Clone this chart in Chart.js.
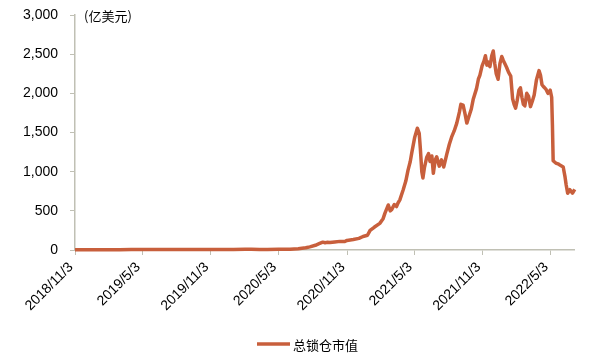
<!DOCTYPE html>
<html><head><meta charset="utf-8">
<script src="https://cdn.jsdelivr.net/npm/chart.js@4/dist/chart.umd.min.js"></script>
<style>html,body{margin:0;padding:0;background:#fff}#wrap{width:600px;height:359px;position:relative}</style>
</head><body><div id="wrap"><canvas id="c" width="600" height="359"></canvas></div>
<script>
const dates = [
'2018-11-03','2018-12-03','2019-01-03','2019-02-03','2019-03-03','2019-04-03','2019-05-03','2019-06-03','2019-07-03','2019-08-03','2019-09-03','2019-10-03','2019-11-03','2019-12-03',
'2020-01-03','2020-02-03','2020-02-20','2020-03-13','2020-04-03','2020-05-03','2020-06-03','2020-06-25','2020-07-15','2020-07-26','2020-08-10','2020-08-20','2020-08-30','2020-09-05','2020-09-10','2020-09-18','2020-10-01','2020-10-15','2020-10-28','2020-11-03','2020-11-20','2020-12-05','2020-12-16','2020-12-28',
'2021-01-04','2021-01-15','2021-01-30','2021-02-08','2021-02-13','2021-02-22','2021-02-27','2021-03-03','2021-03-10','2021-03-16','2021-03-20','2021-03-25','2021-04-03','2021-04-10','2021-04-16','2021-04-22','2021-04-26','2021-05-04','2021-05-11','2021-05-16','2021-05-19','2021-05-23','2021-05-26','2021-05-30','2021-06-05','2021-06-10','2021-06-14','2021-06-19','2021-06-23','2021-06-28','2021-07-02','2021-07-09','2021-07-15','2021-07-21','2021-07-29','2021-08-05','2021-08-11','2021-08-18','2021-08-25','2021-09-01','2021-09-05','2021-09-11','2021-09-16','2021-09-21','2021-09-27','2021-10-03','2021-10-08','2021-10-17','2021-10-22','2021-10-26','2021-11-01','2021-11-06','2021-11-10','2021-11-14','2021-11-17','2021-11-22','2021-11-27','2021-12-01','2021-12-05','2021-12-09','2021-12-14','2021-12-19','2021-12-24','2021-12-28',
'2022-01-01','2022-01-06','2022-01-11','2022-01-17','2022-01-22','2022-01-26','2022-01-30','2022-02-03','2022-02-08','2022-02-12','2022-02-16','2022-02-20','2022-02-24','2022-03-01','2022-03-06','2022-03-11','2022-03-16','2022-03-21','2022-03-27','2022-04-03','2022-04-07','2022-04-11','2022-04-16','2022-04-22','2022-04-27','2022-05-03','2022-05-07','2022-05-09','2022-05-11','2022-05-18','2022-05-24','2022-05-29','2022-06-07','2022-06-12','2022-06-15','2022-06-19','2022-06-25','2022-07-02','2022-07-08'
];
const values = [
4,3,3,3,4,5,5,6,6,5,5,6,6,6,
7,9,11,6,7,9,11,17,28,40,60,80,100,92,98,95,103,110,108,122,133,148,172,188,
250,290,340,400,470,575,500,515,580,555,600,640,770,880,1020,1130,1240,1440,1555,1490,1300,1000,920,1050,1180,1230,1130,1200,980,1150,1190,1070,1150,1060,1220,1350,1440,1520,1620,1760,1860,1850,1740,1620,1710,1800,1920,2060,2180,2230,2350,2410,2480,2360,2400,2340,2480,2540,2380,2250,2180,2380,2470,2420,
2380,2330,2270,2220,1930,1860,1810,1900,2040,2070,1950,1860,1840,2000,1960,1830,1900,1980,2170,2290,2230,2110,2080,2050,2000,2040,1950,1600,1140,1110,1100,1085,1060,930,830,725,770,725,775
];
const tickDates = ['2018-11-03','2019-05-03','2019-11-03','2020-05-03','2020-11-03','2021-05-03','2021-11-03','2022-05-03'];
const tickLabels = ['2018/11/3','2019/5/3','2019/11/3','2020/5/3','2020/11/3','2021/5/3','2021/11/3','2022/5/3'];
const yTicks = [0,500,1000,1500,2000,2500,3000];
const seriesName = '总锁仓市值';
const unitLabel = '(亿美元)';
const axisStart = '2018-11-03', axisEnd = '2022-07-06';

function dayOf(s){const p=s.split('-').map(Number);return Math.round((Date.UTC(p[0],p[1]-1,p[2])-Date.UTC(2018,10,3))/86400000);}
const points = dates.map((d,i)=>({x:dayOf(d), y:values[i]}));
const tickDays = tickDates.map(dayOf);
const LINE = '#C85F3C';
const AXIS = '#C0C0B4';

const extras = {
  id:'extras',
  afterDraw(chart){
    const ctx = chart.ctx;
    ctx.save();
    ctx.fillStyle = '#000';
    ctx.font = '13px "Noto Sans CJK SC", "Liberation Sans", sans-serif';
    ctx.textBaseline = 'middle';
    ctx.textAlign = 'left';
    ctx.fillText(unitLabel, 84, 16);
    ctx.strokeStyle = LINE; ctx.lineWidth = 3.5; ctx.lineCap='butt';
    ctx.beginPath(); ctx.moveTo(257,344); ctx.lineTo(290,344); ctx.stroke();
    ctx.fillText(seriesName, 293, 345);
    ctx.restore();
  }
};

new Chart(document.getElementById('c'), {
  type:'line',
  data:{datasets:[{label:seriesName,data:points,borderColor:LINE,backgroundColor:LINE,borderWidth:3.5,pointRadius:0,tension:0,borderJoinStyle:'round',clip:false}]},
  options:{
    responsive:false, animation:false, devicePixelRatio:1,
    layout:{padding:{top:15,right:26,left:0,bottom:0}},
    plugins:{legend:{display:false},tooltip:{enabled:false}},
    scales:{
      x:{type:'linear',min:dayOf(axisStart),max:dayOf(axisEnd),
        afterBuildTicks(s){s.ticks = tickDays.map(v=>({value:v}));},
        afterFit(s){s.height = 109; s.paddingTop = 0; s.paddingBottom = 0;},
        ticks:{autoSkip:false,minRotation:45,maxRotation:45,padding:4,labelOffset:-4,color:'#000',font:{family:'"Liberation Sans", Arial, sans-serif',size:14},
          callback(v){const i=tickDays.indexOf(v);return i>=0?tickLabels[i]:'';}},
        grid:{display:true,drawOnChartArea:false,drawTicks:true,tickLength:5,color:AXIS,lineWidth:1},
        border:{display:true,color:AXIS,width:1.5}
      },
      y:{min:0,max:3000,
        afterBuildTicks(s){s.ticks = yTicks.map(v=>({value:v}));},
        afterFit(s){s.width = 75; s.paddingTop = 0; s.paddingBottom = 0;},
        ticks:{padding:12,color:'#000',font:{family:'"Liberation Sans", Arial, sans-serif',size:14},
          callback(v){return v.toLocaleString('en-US');}},
        grid:{display:true,drawOnChartArea:false,drawTicks:true,tickLength:5,color:AXIS,lineWidth:1},
        border:{display:true,color:AXIS,width:1.5}
      }
    }
  },
  plugins:[extras]
});
</script></body></html>
